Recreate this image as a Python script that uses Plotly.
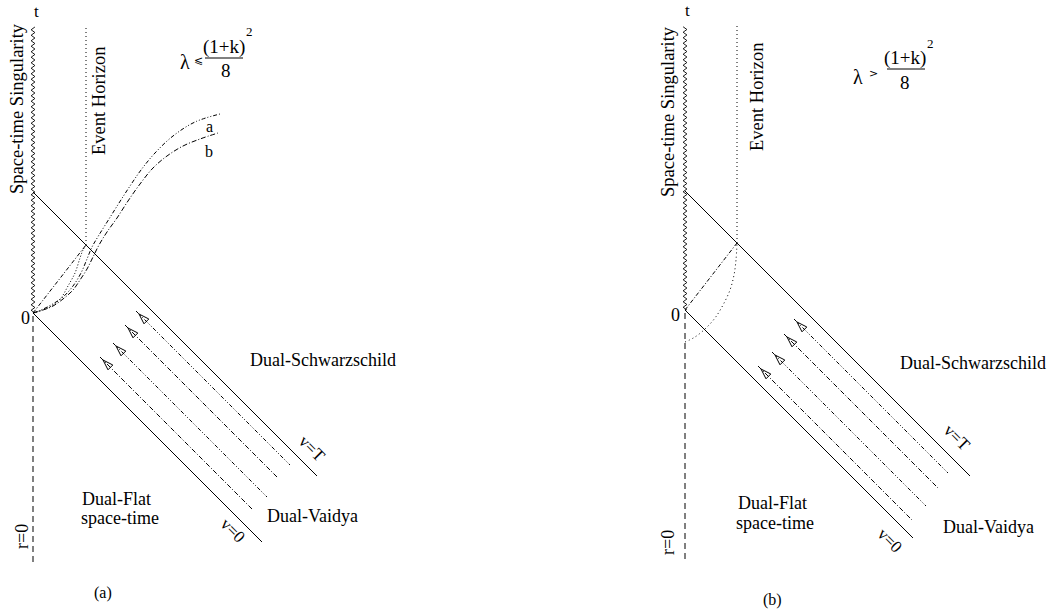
import numpy as np
import plotly.graph_objects as go

FONT = "Liberation Serif"
INK = "black"

# ---------------- geometry data (r, t), origin = event "0" in each panel ----------------
panels = ["a", "b"]
v_T = [121, 119]                 # v = t + r of the v=T shell
v0_end_r = [229, 228]            # r where v=0 line stops
vT_end_r = [284, 285]            # r where v=T line stops
horizon_r = [53, 52]             # event horizon radius
sing_top_t = [288, 285]          # top of singularity / horizon
r0_bottom_t = [-250, -250]       # bottom of r=0 dashed line

# incoming null rays between v=0 and v=T
ray_v = [[23, 50, 80, 105], [17, 45, 75, 100]]
ray_r_start = [[67, 80, 92, 103], [73, 87, 99, 109]]
ray_r_end = [[220, 234, 245, 257], [227, 241, 253, 263]]

# panel (a) outgoing curves
curve_a_r = [0, 8, 18, 30, 40, 48, 54, 59, 66, 76, 86, 97, 108, 122, 140, 162, 187]
curve_a_t = [0, 3, 8, 16, 27, 40, 54, 66, 78, 94, 110, 127, 143, 160, 177, 191, 199]
curve_b_r = [0, 10, 20, 30, 40, 47, 54, 60, 66, 74, 84, 95, 107, 120, 134, 150, 167, 185]
curve_b_t = [0, 3, 7, 14, 23, 33, 44, 56, 68, 81, 95, 112, 129, 145, 157, 167, 174, 180]
app_hor_a_r = [0, 10, 20, 28, 35, 42, 47, 50, 53]
app_hor_a_t = [0, 3, 8, 15, 27, 40, 55, 63, 68]
# panel (b) apparent horizon curve
app_hor_b_r = [0, 10, 20, 30, 38, 45, 49, 51, 52]
app_hor_b_t = [-32, -27, -19, -8, 5, 20, 35, 50, 67]

# ---------------- figure ----------------
fig = go.Figure()
axes = [("x", "y"), ("x2", "y2")]


def line(xs, ys, ax, dash="solid", width=1.0, shape="linear"):
    fig.add_trace(go.Scatter(x=xs, y=ys, mode="lines", xaxis=ax[0], yaxis=ax[1],
                             line=dict(color=INK, width=width, dash=dash, shape=shape),
                             hoverinfo="skip", showlegend=False))


for i, ax in enumerate(axes):
    # singularity (wavy)
    tz = np.arange(0, sing_top_t[i] + 0.1, 2.75)
    rz = 1.9 * np.where(np.arange(len(tz)) % 2 == 0, 1, -1)
    line(rz, tz, ax, width=0.9)
    # r = 0 dashed
    line([0, 0], [-3, r0_bottom_t[i]], ax, dash="6px,4px", width=1)
    # v = 0 and v = T
    line([0, v0_end_r[i]], [0, -v0_end_r[i]], ax, width=1)
    line([0, vT_end_r[i]], [v_T[i], v_T[i] - vT_end_r[i]], ax, width=1)
    # event horizon (dotted)
    line([horizon_r[i], horizon_r[i]], [v_T[i] - horizon_r[i], sing_top_t[i]], ax,
         dash="1px,3px", width=1)
    # straight dash-dot from origin to horizon crossing
    line([0, horizon_r[i]], [0, v_T[i] - horizon_r[i]], ax, dash="4px,2px,1px,2px", width=1)
    # null rays with arrowheads
    for k, v in enumerate(ray_v[i]):
        r0, r1 = ray_r_start[i][k], ray_r_end[i][k]
        dash = "5px,2px,1px,2px" if k % 2 == 0 else "4px,2px,1px,2px,1px,2px"
        line([r0, r1], [v - r0, v - r1], ax, dash=dash, width=1)
    tips_r = [ray_r_start[i][k] + 3 for k in range(4)]
    tips_t = [ray_v[i][k] - ray_r_start[i][k] - 3 for k in range(4)]
    fig.add_trace(go.Scatter(x=tips_r, y=tips_t, mode="markers", xaxis=ax[0], yaxis=ax[1],
                             marker=dict(symbol="arrow-open", size=11, angle=-45,
                                         color=INK, line=dict(color=INK, width=1)),
                             hoverinfo="skip", showlegend=False))

# panel (a) curves
line(app_hor_a_r, app_hor_a_t, axes[0], dash="1px,2px", width=1, shape="spline")
line(curve_a_r, curve_a_t, axes[0], dash="4px,2px,1px,2px,1px,2px", width=1, shape="spline")
line(curve_b_r, curve_b_t, axes[0], dash="5px,2px,1px,2px", width=1, shape="spline")
# panel (b) curve
line(app_hor_b_r, app_hor_b_t, axes[1], dash="1px,3px", width=1, shape="spline")

# ---------------- text ----------------
ann = []


def txt(text, r, t, i, size=18, angle=0, family=FONT):
    ann.append(dict(text=text, x=r, y=t, xref=axes[i][0], yref=axes[i][1], showarrow=False,
                    textangle=angle, font=dict(family=family, size=size, color=INK),
                    xanchor="center", yanchor="middle"))


labels_common = [
    # text, (r,t) panel a, (r,t) panel b, size, angle
    ("t", (3, 302), (2, 300), 17, 0),
    ("Space-time Singularity", (-16, 204), (-17, 198), 18.5, -90),
    ("Event Horizon", (66, 212), (72, 213), 18.5, -90),
    ("0", (-8, -5), (-10, -5), 18, 0),
    ("r=0", (-11, -224), (-17, -233), 18, -90),
    ("Dual-Schwarzschild", (290, -47), (288, -53), 18, 0),
    ("Dual-Flat", (83, -186), (87, -193), 18, 0),
    ("space-time", (87, -205), (90, -213), 18, 0),
    ("Dual-Vaidya", (279, -203), (303, -217), 18, 0),
    ("v=T", (279, -135), (272, -127), 17, 45),
    ("v=0", (200, -217), (205, -230), 17, 45),
]
for text, pa, pb, size, angle in labels_common:
    txt(text, pa[0], pa[1], 0, size, angle)
    txt(text, pb[0], pb[1], 1, size, angle)

txt("(a)", 70, -280, 0, 16)
txt("(b)", 87, -290, 1, 16)
txt("a", 176, 187, 0, 16)
txt("b", 176, 162, 0, 16)

# condition formulas
cond = [
    # lambda pos, relation, relation pos, numerator pos, bar (r0,r1,t), denom pos, sup pos
    ((152, 251), "⩽", (165, 253), (191, 266), (172, 210, 255), (193, 243), (216, 282)),
    ((173, 233), ">", (188, 237), (220, 252), (202, 240, 241), (220, 228), (245, 267)),
]
shapes = []
for i, (lp, rel, rp, npos, bar, dpos, sp) in enumerate(cond):
    txt("λ", lp[0], lp[1], i, 20)
    txt(rel, rp[0], rp[1], i, 11, family="DejaVu Sans")
    txt("(1+k)", npos[0], npos[1], i, 19)
    txt("8", dpos[0], dpos[1], i, 19)
    txt("2", sp[0], sp[1], i, 13)
    shapes.append(dict(type="line", xref=axes[i][0], yref=axes[i][1],
                       x0=bar[0], x1=bar[1], y0=bar[2], y1=bar[2],
                       line=dict(color=INK, width=1)))

W, H = 1059, 614
fig.update_layout(
    width=W, height=H, margin=dict(l=0, r=0, t=0, b=0),
    paper_bgcolor="white", plot_bgcolor="white",
    annotations=ann, shapes=shapes,
    xaxis=dict(domain=[0, 0.5], range=[-33, 496.5], visible=False),
    yaxis=dict(domain=[0, 1], range=[-301, 313], visible=False),
    xaxis2=dict(domain=[0.5, 1], range=[-155.5, 374], visible=False),
    yaxis2=dict(domain=[0, 1], range=[-304, 310], visible=False),
)
fig.write_html("out.html", config={"displayModeBar": False},
               post_script="document.body.style.margin='0px';document.body.style.overflow='hidden';")
